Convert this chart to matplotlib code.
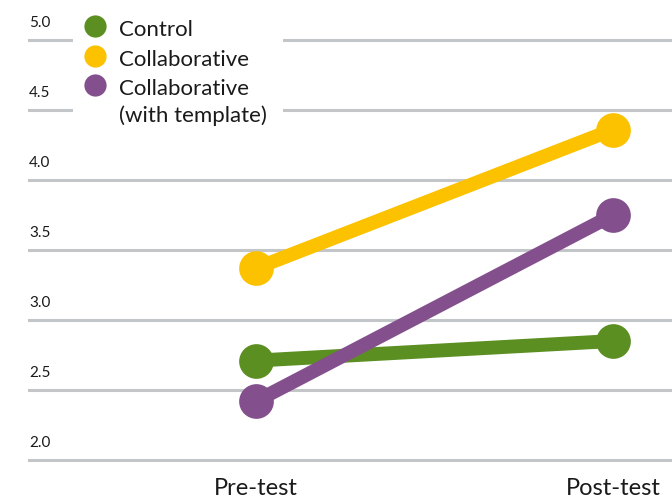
import matplotlib
matplotlib.use("Agg")
import matplotlib.pyplot as plt
import matplotlib.transforms as mtransforms
from matplotlib.patches import Rectangle

# ---- data ----
phases = ["Pre-test", "Post-test"]
series_names = ["Control", "Collaborative", "Collaborative\n(with template)"]
control = [2.71, 2.85]
collaborative = [3.37, 4.36]
collab_template = [2.42, 3.75]
y_ticks = [2.0, 2.5, 3.0, 3.5, 4.0, 4.5, 5.0]
y_tick_labels = ["2.0", "2.5", "3.0", "3.5", "4.0", "4.5", "5.0"]

colors = ["#5b8f22", "#fcc200", "#834f8d"]
series = [control, collaborative, collab_template]

plt.rcParams['font.family'] = ['Lato', 'DejaVu Sans']
W, H = 672, 500
fig = plt.figure(figsize=(W / 100, H / 100), dpi=100)
ax_left, ax_right, ax_top, ax_bottom = 29, 672, 0, 460
ax = fig.add_axes([ax_left / W, (H - ax_bottom) / H, (ax_right - ax_left) / W, (ax_bottom - ax_top) / H])

x = list(range(len(phases)))
px_pre, px_post = 256, 613
span = px_post - px_pre
ax.set_xlim((ax_left - px_pre) / span, (ax_right - px_pre) / span)
ax.set_ylim(2.0, 2.0 + (ax_bottom - ax_top) / 140.0)

for s in ax.spines.values():
    s.set_visible(False)

# gridlines
for t in y_ticks:
    ax.axhline(t, color="#c3c6c9", lw=2.2, zorder=1, clip_on=False)

# y tick labels above gridlines
ax.set_yticks([])
trans = mtransforms.blended_transform_factory(ax.transAxes, ax.transData)
off = mtransforms.ScaledTranslation(0, 7 / 72, fig.dpi_scale_trans)
for t, lab in zip(y_ticks, y_tick_labels):
    ax.text(0, t, lab, transform=trans + off, ha="left", va="bottom",
            fontsize=11, color="#1a1a1a")

# lines
for vals, c in zip(series, colors):
    ax.plot(x, vals, color=c, lw=10, solid_capstyle="butt", zorder=3)
    ax.plot(x, vals, 'o', color=c, markersize=25, markeredgewidth=0, zorder=4)

ax.set_xticks(x)
ax.set_xticklabels(phases, fontsize=17, color="#1a1a1a")
ax.tick_params(axis="x", length=0, pad=13)

# legend (manual)
def fx(px):
    return (px - ax_left) / (ax_right - ax_left)

def fy(py):
    return 1 - (py - ax_top) / (ax_bottom - ax_top)

ax.add_patch(Rectangle((fx(73), fy(130)), fx(283) - fx(73), fy(0) - fy(130),
                       transform=ax.transAxes, facecolor="white", edgecolor="none",
                       zorder=5, clip_on=False))
row_y = [26, 56, 85]
line_gap = 27
for name, c, ry in zip(series_names, colors, row_y):
    ax.plot([fx(95)], [fy(ry)], 'o', color=c, markersize=16, markeredgewidth=0,
            transform=ax.transAxes, zorder=6, clip_on=False)
    for i, part in enumerate(name.split("\n")):
        ax.text(fx(119), fy(ry + 10 + i * line_gap), part, transform=ax.transAxes,
                ha="left", va="baseline", fontsize=16, color="#1a1a1a", zorder=6)

fig.savefig("out.png", dpi=100)
